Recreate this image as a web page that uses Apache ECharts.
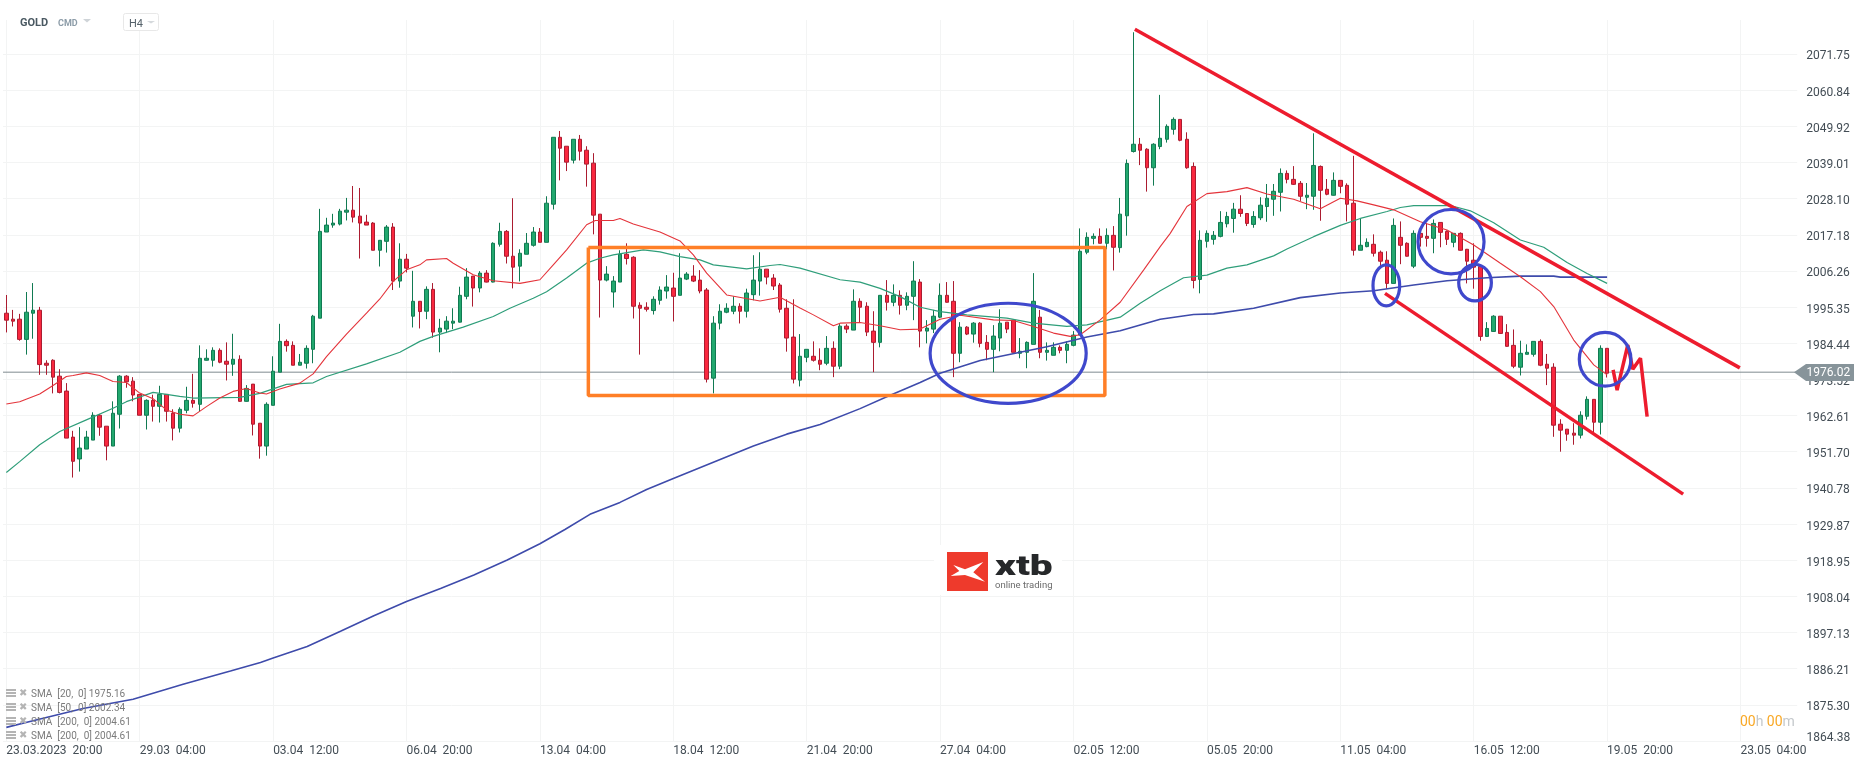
<!DOCTYPE html>
<html>
<head>
<meta charset="utf-8">
<title>GOLD H4</title>
<script src="https://cdn.jsdelivr.net/npm/echarts@6/dist/echarts.min.js"></script>
<style>
  html, body { margin: 0; padding: 0; background: #fff; }
  #chart { width: 1866px; height: 767px; }
</style>
</head>
<body>
<div id="chart"></div>
<script>
// tick labels
const timeLabels = ['23.03.2023  20:00', '29.03  04:00', '03.04  12:00', '06.04  20:00', '13.04  04:00', '18.04  12:00', '21.04  20:00',
  '27.04  04:00', '02.05  12:00', '05.05  20:00', '11.05  04:00', '16.05  12:00', '19.05  20:00', '23.05  04:00'];
const priceTicks = ['1864.38', '1875.30', '1886.21', '1897.13', '1908.04', '1918.95', '1929.87', '1940.78', '1951.70', '1962.61',
  '1973.52', '1984.44', '1995.35', '2006.26', '2017.18', '2028.10', '2039.01', '2049.92', '2060.84', '2071.75'];
const barsPerLabel = 20;
const slotCount = 269; // 241 bars and the empty space on the right

// H4 candles
const opens = [
  1993.5,1991.7,1991.7,1985.6,1993.5,1994.4,1978.4,1979.3,1974.5,1970.0,
  1956.1,1949.5,1952.5,1955.2,1962.7,1959.4,1953.4,1963.0,1974.5,1973.0,
  1969.0,1962.7,1967.2,1965.4,1969.0,1963.3,1958.8,1964.2,1967.2,1966.0,
  1979.3,1979.3,1982.3,1979.0,1978.1,1979.6,1966.9,1972.1,1960.3,1953.4,
  1965.7,1975.7,1985.0,1983.8,1977.8,1978.4,1982.6,1992.0,2018.0,2020.1,
  2020.4,2024.0,2024.6,2022.8,2021.0,2020.7,2012.5,2015.2,2019.5,2003.2,
  2009.8,1992.6,1997.1,1994.1,2000.7,1987.8,1988.7,1990.5,1990.8,1998.6,
  2004.7,2001.1,2005.6,2002.9,2014.3,2018.2,2010.7,2007.7,2011.3,2014.0,
  2018.0,2014.9,2026.4,2046.6,2043.9,2039.7,2046.0,2042.7,2038.8,2023.4,
  2003.5,1999.9,2002.9,2011.3,2010.4,1995.9,1995.3,1994.3,1997.4,2000.2,
  2001.1,1998.9,2003.8,2004.7,2003.5,2000.5,1973.9,1990.5,1993.8,1994.1,
  1995.6,1994.1,1999.1,2003.2,2006.8,2004.1,2002.0,1995.0,1986.3,1973.3,
  1980.2,1980.5,1979.3,1978.4,1982.9,1977.5,1989.6,1988.4,1997.1,1995.6,
  1988.1,1984.7,1998.9,1996.8,1998.9,1995.9,1998.6,2002.9,1988.1,1988.7,
  1992.3,1998.9,1997.1,1981.4,1989.3,1987.2,1990.5,1984.7,1982.6,1986.0,
  1990.8,1991.4,1981.4,1981.7,1984.1,1992.3,1981.7,1980.8,1983.2,1982.3,
  1983.8,1986.9,2011.9,2016.1,2016.7,2014.6,2017.0,2013.3,2022.9,2042.3,
  2044.5,2043.0,2037.4,2043.8,2046.0,2049.0,2052.0,2046.0,2037.8,2003.7,
  2015.2,2015.8,2016.7,2020.5,2022.1,2024.9,2023.6,2020.3,2022.3,2025.7,
  2027.9,2030.0,2035.7,2033.9,2032.7,2028.5,2028.8,2037.8,2030.9,2029.1,
  2033.6,2032.1,2026.7,2012.5,2013.6,2014.3,2011.9,2009.5,2002.5,2016.4,
  2014.6,2007.7,2017.6,2016.7,2016.1,2020.9,2018.2,2014.9,2017.6,2012.8,
  2009.5,2007.6,1986.5,1988.0,1992.6,1987.7,1983.8,1977.2,1981.1,1981.1,
  1985.0,1978.1,1977.2,1960.0,1958.5,1957.3,1956.7,1962.4,1967.5,1960.6,1982.9];
const closes = [
  1991.4,1991.1,1985.6,1993.8,1994.4,1978.0,1977.8,1974.2,1969.6,1955.8,
  1948.8,1952.8,1956.1,1962.7,1959.1,1953.4,1963.3,1974.5,1972.8,1968.8,
  1962.7,1967.2,1965.4,1969.0,1963.9,1958.8,1964.5,1967.2,1966.3,1979.9,
  1979.9,1982.3,1978.7,1978.1,1979.6,1966.9,1970.8,1960.0,1953.4,1966.0,
  1976.0,1985.0,1983.7,1977.8,1978.7,1982.9,1992.6,2018.2,2020.1,2020.7,
  2024.3,2024.6,2022.5,2020.7,2020.1,2012.5,2015.5,2019.5,2003.2,2009.8,
  2007.1,1997.1,1994.0,2000.7,1987.8,1989.0,1991.1,1991.1,1998.9,2004.4,
  2001.1,2005.6,2002.9,2014.6,2018.2,2010.7,2007.4,2011.6,2014.6,2018.0,
  2014.9,2026.7,2046.6,2043.3,2039.1,2046.0,2042.4,2038.5,2023.1,2003.5,
  2005.3,2003.2,2011.3,2010.0,1995.6,1995.0,1994.7,1997.7,2000.5,2001.4,
  1998.6,2004.1,2005.3,2003.2,2000.2,1973.6,1990.5,1994.1,1995.0,1995.6,
  1994.1,1999.6,2003.5,2006.8,2004.4,2001.7,1994.7,1986.0,1973.6,1980.5,
  1982.6,1979.3,1978.1,1982.9,1977.5,1989.6,1988.7,1997.1,1995.3,1987.8,
  1984.7,1998.9,1996.8,1998.9,1995.9,1998.6,2003.2,1988.1,1989.0,1992.6,
  1998.9,1996.8,1981.4,1989.3,1987.2,1990.5,1984.4,1982.6,1986.6,1990.5,
  1988.7,1981.7,1982.0,1984.7,1997.1,1981.7,1982.3,1983.2,1982.3,1984.1,
  1986.9,2012.2,2016.4,2016.7,2014.6,2017.0,2013.4,2023.4,2038.7,2044.5,
  2042.7,2037.4,2044.5,2046.3,2049.9,2052.0,2045.7,2037.4,2003.4,2015.5,
  2017.6,2017.0,2020.9,2022.7,2024.9,2023.6,2020.6,2022.7,2026.1,2028.2,
  2030.3,2035.7,2033.9,2032.4,2028.8,2029.1,2038.1,2030.6,2029.4,2033.6,
  2031.8,2026.4,2012.5,2014.0,2014.9,2011.6,2009.2,2002.5,2020.0,2014.0,
  2010.7,2017.6,2016.4,2016.1,2020.6,2017.9,2015.8,2017.6,2012.5,2009.2,
  2007.4,1986.5,1988.9,1992.6,1987.4,1983.5,1977.5,1981.4,1981.7,1985.0,
  1977.8,1976.9,1959.7,1958.2,1957.0,1956.7,1962.7,1967.5,1960.6,1982.9,1975.4];
const lows = [
  1987.7,1989.5,1985.2,1981.0,1985.8,1974.9,1974.9,1969.3,1969.3,1955.8,
  1943.9,1945.7,1952.5,1955.2,1956.5,1949.1,1953.4,1958.7,1971.0,1966.9,
  1962.7,1958.4,1960.8,1960.5,1960.8,1955.1,1957.5,1963.3,1965.0,1963.9,
  1979.2,1977.4,1978.4,1973.2,1974.6,1966.8,1966.8,1956.6,1949.6,1950.5,
  1965.7,1975.7,1981.9,1977.8,1977.8,1976.8,1978.4,1992.0,2018.0,2019.3,
  2020.0,2021.5,2020.9,2010.0,2020.1,2012.5,2007.6,2011.8,2000.5,2001.2,
  2005.8,1989.2,1988.9,1991.7,1986.1,1981.7,1987.5,1988.7,1990.7,1997.7,
  1995.5,1999.8,2002.8,2002.8,2013.6,2008.5,2001.0,2003.1,2011.3,2013.6,
  2014.9,2014.9,2024.8,2033.6,2036.4,2038.7,2039.6,2031.7,2017.3,1992.2,
  2003.1,1995.2,2002.9,2008.2,1991.9,1981.0,1994.0,1993.1,1996.1,1997.9,
  1991.0,1998.9,2003.5,2002.9,1999.5,1972.6,1969.3,1988.6,1993.5,1993.2,
  1990.4,1992.2,1997.4,1998.8,2002.2,2000.5,1993.7,1981.9,1972.3,1971.4,
  1978.7,1978.9,1976.3,1977.8,1974.2,1976.6,1987.5,1988.4,1990.8,1986.6,
  1975.7,1983.2,1994.3,1995.6,1993.1,1994.4,1991.4,1983.2,1984.4,1987.5,
  1992.0,1996.7,1974.2,1978.7,1986.9,1984.6,1983.2,1979.3,1975.7,1982.0,
  1987.5,1981.7,1979.9,1976.9,1984.1,1979.9,1979.2,1980.8,1981.4,1978.4,
  1983.5,1986.9,2011.3,2014.3,2014.6,2012.8,2006.4,2011.8,2016.9,2042.0,
  2038.2,2030.2,2032.0,2043.0,2045.0,2047.4,2045.4,2037.1,2001.0,1999.5,
  2013.3,2014.2,2016.4,2019.4,2017.8,2022.6,2019.8,2019.3,2021.6,2021.1,
  2022.9,2024.2,2032.7,2032.2,2027.4,2024.9,2024.7,2021.4,2029.1,2029.0,
  2029.7,2021.2,2010.9,2012.5,2013.4,2010.6,2007.8,2000.9,2002.5,2008.3,
  2010.6,2007.1,2013.6,2013.6,2011.6,2013.4,2014.1,2013.4,2012.4,2002.5,
  2000.9,1985.2,1986.4,1987.9,1987.3,1983.4,1976.9,1974.7,1981.1,1980.4,
  1977.5,1971.8,1956.2,1951.7,1955.0,1953.8,1955.7,1961.4,1957.3,1956.9,1974.1];
const highs = [
  1999.0,1994.5,1993.3,1999.9,2002.6,1995.4,1979.3,1979.6,1976.6,1972.4,
  1958.0,1959.1,1958.0,1963.6,1963.1,1959.4,1966.9,1974.8,1974.8,1974.2,
  1969.0,1967.5,1968.9,1971.6,1969.0,1964.5,1965.1,1971.3,1975.2,1983.8,
  1982.6,1983.2,1982.9,1984.7,1987.3,1980.8,1971.8,1972.1,1960.3,1966.6,
  1980.5,1990.3,1985.6,1985.0,1981.2,1983.8,1993.0,2025.0,2022.3,2023.5,
  2025.0,2028.3,2031.9,2031.3,2023.2,2021.0,2015.6,2020.1,2020.7,2014.6,
  2011.4,2006.3,1997.1,2001.6,2002.6,1991.8,1992.6,1995.0,2001.5,2007.1,
  2004.7,2006.2,2006.5,2014.9,2020.8,2018.6,2028.2,2012.8,2017.7,2019.5,
  2019.2,2028.8,2046.6,2048.5,2043.9,2046.0,2047.3,2043.9,2041.8,2023.4,
  2007.7,2004.7,2012.5,2014.6,2010.7,1996.8,1996.8,1998.6,2001.6,2005.0,
  2005.7,2011.6,2005.9,2008.0,2006.5,2001.1,1992.6,1996.2,1996.5,1998.6,
  1996.5,2000.9,2011.0,2011.9,2006.8,2005.3,2002.6,1997.7,1997.7,1987.2,
  1982.6,1985.0,1982.9,1986.6,1985.0,1990.2,1990.2,2000.7,1998.0,1996.8,
  1994.1,1998.9,2003.5,2002.2,2000.4,1999.8,2009.2,2003.8,1991.4,1994.5,
  2002.5,2002.9,2003.2,1990.8,1989.6,1990.8,1990.8,1986.9,1989.9,1994.7,
  1990.8,1991.4,1986.0,1985.0,2005.6,1994.5,1984.7,1984.7,1983.8,1985.0,
  1988.1,2019.1,2017.9,2017.6,2019.1,2019.1,2019.8,2028.3,2039.9,2078.3,
  2046.4,2043.3,2044.8,2059.4,2050.5,2052.6,2052.0,2048.1,2039.0,2018.5,
  2018.5,2018.3,2024.3,2024.1,2026.8,2029.1,2023.6,2024.3,2028.5,2032.5,
  2032.5,2037.2,2036.6,2037.9,2033.4,2032.8,2047.8,2038.1,2034.0,2036.0,
  2033.6,2032.7,2041.0,2022.0,2016.1,2017.3,2012.4,2012.2,2022.1,2021.2,
  2014.9,2018.5,2017.6,2020.6,2021.8,2020.9,2018.5,2017.6,2017.9,2012.9,
  2014.6,2007.7,1990.8,1992.9,1992.6,1990.2,1988.6,1985.2,1984.1,1985.0,
  1985.6,1981.2,1978.4,1961.5,1958.5,1960.3,1963.9,1968.4,1967.5,1983.8,1982.9];

// moving averages as [bar index, price]
const sma20 = [[0,1966.1],[2,1966.8],[5,1969.1],[7,1971.7],[9,1974.4],[10,1974.7],[12,1975.5],[14,1974.7],[16,1972.9],[18,1972.6],
  [20,1969.4],[22,1967.7],[24,1964.3],[26,1963.0],[28,1962.5],[30,1965.3],[32,1967.9],[34,1969.9],[36,1970.8],[38,1969.4],
  [39,1969.1],[41,1970.6],[44,1972.4],[46,1975.2],[48,1980.4],[51,1987.2],[54,1993.5],[56,1997.8],[58,2003.1],[60,2006.6],
  [62,2008.1],[63,2009.6],[66,2010.0],[67,2008.6],[70,2005.1],[73,2003.3],[77,2002.5],[80,2003.6],[82,2008.1],[84,2012.6],
  [87,2020.2],[88.3,2021.5],[91,2021.5],[92,2022.1],[94,2020.4],[98,2018.0],[101,2015.3],[103,2011.1],[105,2005.6],[108,1999.0],
  [113,1997.2],[116,1998.3],[119,1995.1],[121,1993.0],[124,1989.7],[125,1990.5],[128,1990.7],[131,1989.7],[134,1988.5],[137,1988.7],
  [140,1991.7],[143,1992.9],[148,1991.5],[151,1991.3],[154,1989.5],[157,1987.5],[159.5,1986.5],[161,1987.0],[164,1991.5],[167,1996.8],
  [170.5,2006.5],[173,2013.6],[174.5,2017.6],[177,2025.7],[180,2029.6],[183,2030.2],[186,2031.4],[189,2029.5],[193,2027.9],[197,2025.0],
  [200,2028.2],[202.5,2027.4],[205,2026.2],[208,2024.7],[212,2021.1],[216,2018.6],[220,2014.1],[224,2008.6],[227,2004.5],[230,2000.0],
  [232,1995.5],[235,1985.4],[238,1977.9],[240,1974.9]];
const sma50 = [[0,1945.4],[2,1948.7],[5,1953.8],[8,1957.8],[12,1961.3],[16,1964.8],[18,1966.8],[22,1969.6],[26,1968.4],[28,1967.9],
  [35,1968.1],[38,1969.3],[42,1972.0],[46,1972.5],[48,1974.4],[54,1978.2],[59,1981.7],[62,1985.0],[64,1986.5],[68.5,1989.3],
  [73,1992.5],[75.5,1995.0],[79,1998.0],[81,2000.0],[84,2004.1],[87,2008.6],[89,2010.1],[91,2011.1],[95.5,2012.6],[98,2012.0],
  [101,2010.6],[104,2009.6],[106,2008.1],[111,2006.9],[114.5,2007.9],[116,2008.2],[119,2007.1],[125,2003.6],[128,2002.9],[131,2001.0],
  [134,1998.5],[137,1995.3],[140,1994.0],[144,1993.0],[150,1992.0],[154,1990.5],[159,1989.5],[162,1990.0],[167,1992.3],[170,1996.5],
  [173,2000.3],[176.5,2004.2],[180,2005.0],[183,2007.1],[186,2008.1],[190,2010.8],[192,2012.9],[196,2016.6],[200,2020.0],[203,2022.1],
  [207,2024.2],[209,2025.4],[211,2026.0],[216.5,2026.0],[219.5,2024.4],[223,2020.8],[227,2015.6],[230.5,2013.4],[234,2008.8],[237,2005.5],[240,2002.5]];
const sma200 = [[0,1868.5],[4,1870.5],[11.5,1874.2],[19,1877.0],[26.5,1881.5],[33.6,1885.5],[38.1,1888.1],[40,1889.4],[45.1,1892.9],[50.1,1897.5],
  [55.1,1902.2],[60,1906.5],[65.1,1910.4],[70.1,1914.5],[75.1,1919.0],[80,1923.9],[83.75,1928.2],[87.5,1932.8],[92,1936.4],[96,1940.3],
  [100,1943.6],[106,1948.5],[112,1953.4],[117,1957.0],[122,1959.9],[128,1964.7],[132,1968.3],[137,1972.6],[140,1975.4],[146,1979.2],
  [152,1981.7],[156,1983.4],[162,1986.3],[167,1988.2],[173,1991.7],[178,1993.1],[181,1993.3],[187,1995.0],[194,1998.2],[200,1999.6],
  [205,2000.3],[211,2002.0],[216,2003.3],[222,2004.2],[227,2004.7],[232,2004.7],[233,2004.4],[240,2004.4]];

// hand drawn annotations as [bar index, price]
const upperTrend = [[169.2,2079.2],[259.9,1977.0]];
const lowerTrend = [[206.7,1999.5],[251.4,1938.9]];
const forecastPath = [[240.9,1976.4],[241.5,1970.3],[243.1,1983.9],[243.85,1976.6],[245,1979.9],[246,1962.3]];
const rangeBox = [[87.26,2013.3],[164.7,2013.3],[164.7,1968.7],[87.26,1968.7],[87.26,2013.3]];
// centre bar, centre price, half width in bars, half height in price
const circles = [[150.2,1981.4,11.7,15.1],[206.9,2001.9,2.0,6.2],[216.6,2015.1,4.95,9.7],[220.2,2002.7,2.45,5.5],[239.7,1979.6,3.87,8.1]];
const lastPrice = 1975.7;
const lastPriceLabel = '1976.02';
const legendRows = ['SMA  [20,  0] 1975.16', 'SMA  [50,  0] 2002.34', 'SMA  [200,  0] 2004.61', 'SMA  [200,  0] 2004.61'];

const categories = Array.from({ length: slotCount }, (_, i) => i % barsPerLabel === 0 ? timeLabels[i / barsPerLabel] : '');
const candles = opens.map((o, i) => [o, closes[i], lows[i], highs[i]]);

const gridColor = '#f3f4f4';
const textColor = '#434d55';

function overlayLine(data, color, width, z) {
  return {
    type: 'line', xAxisIndex: 1, yAxisIndex: 0, data: data, showSymbol: false, symbol: 'none', silent: true, z: z,
    lineStyle: { color: color, width: width }
  };
}

function legendGraphics() {
  const out = [];
  legendRows.forEach((row, i) => {
    const y = 693 + i * 14;
    [-4, -1, 2].forEach(dy => out.push({ type: 'rect', shape: { x: 6, y: y + dy, width: 10, height: 2 }, style: { fill: '#b4b4b4' }, z: 50 }));
    out.push({ type: 'text', x: 19, y: y, style: { text: '✖', font: '10px "DejaVu Sans"', fill: '#b4b4b4', verticalAlign: 'middle' }, z: 50 });
    out.push({ type: 'text', x: 31, y: y + 1, style: { text: row, font: '10px Roboto', fill: '#7b7b7b', verticalAlign: 'middle' }, z: 50 });
  });
  return out;
}

const graphics = [
  // header
  { type: 'text', x: 20, y: 23, style: { text: 'GOLD', font: 'bold 11px Roboto', fill: '#4a5962', verticalAlign: 'middle' } },
  { type: 'text', x: 58, y: 23.5, style: { text: 'CMD', font: 'bold 9px Roboto', fill: '#8c9ca8', verticalAlign: 'middle' } },
  { type: 'polygon', shape: { points: [[83, 19], [91, 19], [87, 22.5]] }, style: { fill: '#cfd4d8' } },
  { type: 'rect', shape: { x: 123.5, y: 13.5, width: 35, height: 17, r: 2 }, style: { fill: '#fff', stroke: '#e8e8e8' }, z: 40 },
  { type: 'text', x: 129, y: 24, style: { text: 'H4', font: '11px Roboto', fill: '#56626b', verticalAlign: 'middle' }, z: 41 },
  { type: 'polygon', shape: { points: [[147, 21], [155, 21], [151, 23.5]] }, style: { fill: '#d5d9dc' }, z: 41 },
  // watermark logo
  { type: 'rect', shape: { x: 934, y: 545, width: 128, height: 50 }, style: { fill: '#fff' }, z: 1 },
  { type: 'rect', shape: { x: 947, y: 552, width: 41, height: 39 }, style: { fill: '#ee3a2c' }, z: 2 },
  { type: 'polygon', shape: { points: [[953.3, 565], [965, 569.3], [983.3, 562], [973.3, 572.3], [985, 581.7], [965, 575], [950.7, 576], [959.3, 571]] }, style: { fill: '#fff' }, z: 3 },
  { type: 'text', x: 995, y: 568, scaleX: 1.45, style: { text: 'xtb', font: '900 28px Roboto', fill: '#26282a', verticalAlign: 'middle' }, z: 3 },
  { type: 'text', x: 995, y: 586, style: { text: 'online trading', font: '9.5px Roboto', fill: '#6b6b6b', verticalAlign: 'middle' }, z: 3 },
  // bottom price label sits above its grid line
  { type: 'text', x: 1806.5, y: 737.5, style: { text: priceTicks[0], font: '12px Roboto', fill: textColor, verticalAlign: 'middle' }, z: 50 },
  // current price tag
  { type: 'polygon', shape: { points: [[1794, 372.3], [1806, 364], [1854, 364], [1854, 381], [1806, 381]] }, style: { fill: '#87949a' }, z: 100 },
  { type: 'text', x: 1806.5, y: 373, style: { text: lastPriceLabel, font: '12px Roboto', fill: '#fff', verticalAlign: 'middle' }, z: 101 },
  // candle countdown
  { type: 'text', x: 1740, y: 722.5, style: {
      text: '{a|00}{b|h} {a|00}{b|m}', verticalAlign: 'middle',
      rich: { a: { font: '14px Roboto', fill: '#f9a825' }, b: { font: '14px Roboto', fill: '#c4c8cb' } }
    }, z: 50 }
].concat(legendGraphics());

const chart = echarts.init(document.getElementById('chart'));
chart.setOption({
  animation: false,
  backgroundColor: '#fff',
  grid: { left: 3, right: 68.8, top: 20, bottom: 26, containLabel: false },
  xAxis: [{
    type: 'category',
    data: categories,
    boundaryGap: true,
    axisLine: { show: false },
    axisTick: { show: false },
    axisLabel: { interval: barsPerLabel - 1, align: 'left', margin: 4, color: textColor, fontFamily: 'Roboto', fontSize: 12, hideOverlap: false },
    splitLine: { show: true, interval: barsPerLabel - 1, alignWithLabel: true, lineStyle: { color: gridColor, width: 1 } }
  }, {
    type: 'value', min: -0.5, max: slotCount - 0.5, show: false, splitLine: { show: false }
  }],
  yAxis: {
    type: 'value',
    position: 'right',
    min: 1864.38,
    max: 2082,
    interval: 10.9142,
    scale: true,
    axisLine: { show: false },
    axisTick: { show: false },
    axisLabel: {
      margin: 9, showMinLabel: false, showMaxLabel: false, align: 'left',
      // the labels sit a little under their grid lines
      formatter: v => { const t = priceTicks.find(p => Math.abs(+p - v) < 1); return t ? '{p|' + t + '}' : ''; },
      rich: { p: { color: textColor, fontFamily: 'Roboto', fontSize: 12, padding: [5, 0, 0, 0] } }
    },
    splitLine: { show: true, showMaxLine: false, lineStyle: { color: gridColor, width: 1 } }
  },
  series: [
    overlayLine([[-0.5, lastPrice], [slotCount - 0.5, lastPrice]], '#7f8b90', 1, 1),
    {
      type: 'candlestick',
      data: candles,
      barWidth: 4,
      silent: true,
      z: 2,
      itemStyle: { color: '#22a86e', color0: '#f9283f', borderColor: '#117a52', borderColor0: '#ab1c30', borderWidth: 1 }
    },
    overlayLine(sma200, '#3e4bab', 1.6, 3),
    overlayLine(sma50, '#2f9e7a', 1.2, 3),
    overlayLine(sma20, '#e4343b', 1.1, 3),
    overlayLine(rangeBox, '#ff7f27', 3.5, 5),
    overlayLine(upperTrend, '#ed1c2e', 3.5, 6),
    overlayLine(lowerTrend, '#ed1c2e', 3.5, 6),
    overlayLine(forecastPath, '#ed1c2e', 3.5, 6),
    {
      type: 'custom',
      xAxisIndex: 1,
      yAxisIndex: 0,
      data: circles,
      silent: true,
      clip: false,
      z: 7,
      renderItem: (params, api) => {
        const c = api.coord([api.value(0), api.value(1)]);
        const e = api.coord([api.value(0) + api.value(2), api.value(1) + api.value(3)]);
        return {
          type: 'ellipse',
          shape: { cx: c[0], cy: c[1], rx: e[0] - c[0], ry: c[1] - e[1] },
          style: { fill: 'none', stroke: '#3f48cc', lineWidth: 3.2 }
        };
      }
    }
  ],
  graphic: graphics
});

window.addEventListener('resize', () => chart.resize());
</script>
</body>
</html>
